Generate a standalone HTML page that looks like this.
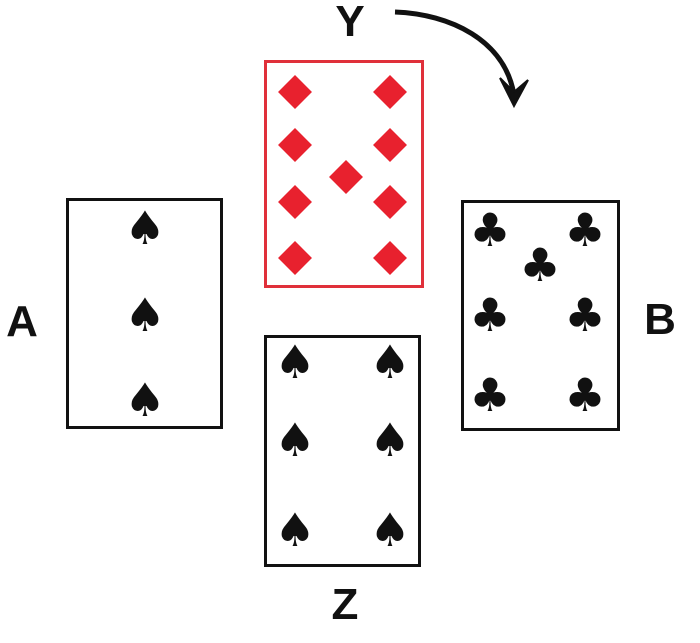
<!DOCTYPE html>
<html><head><meta charset="utf-8"><style>
body{margin:0;width:700px;height:643px;background:#fff;overflow:hidden;position:relative;font-family:"DejaVu Sans","Liberation Sans",sans-serif}
.card{position:absolute;border:3px solid #111;box-sizing:border-box;background:#fff}
.red{border-color:#e0303a}
.s{position:absolute;transform:translate(-50%,-50%);line-height:1;font-size:46px;color:#111}
.d{position:absolute;width:24px;height:24px;background:#e8212e;transform:translate(-50%,-50%) rotate(45deg)}
.lbl{position:absolute;transform:translate(-50%,-50%);font-family:"Liberation Sans",sans-serif;font-weight:bold;font-size:44px;color:#111}
</style></head><body>
<div class="card red" style="left:264px;top:60px;width:160px;height:228px"></div>
<div class="card" style="left:66px;top:198px;width:157px;height:231px"></div>
<div class="card" style="left:461px;top:200px;width:159px;height:231px"></div>
<div class="card" style="left:264px;top:335px;width:157px;height:232px"></div>

<div class="lbl" style="left:350px;top:22px">Y</div>
<div class="lbl" style="left:22px;top:322px">A</div>
<div class="lbl" style="left:660px;top:320px">B</div>
<div class="lbl" style="left:345px;top:605px">Z</div>

<svg style="position:absolute;left:0;top:0" width="700" height="643">
<path d="M395 12 C450 14 505 40 514 95" fill="none" stroke="#111" stroke-width="5"/>
<path d="M500 78 L514 106 L528 80 L514 92 Z" fill="#111" stroke="#111" stroke-width="2"/>
</svg>

<div class="d" style="left:295px;top:92px"></div>
<div class="d" style="left:390px;top:92px"></div>
<div class="d" style="left:295px;top:145px"></div>
<div class="d" style="left:390px;top:145px"></div>
<div class="d" style="left:346px;top:177px"></div>
<div class="d" style="left:295px;top:202px"></div>
<div class="d" style="left:390px;top:202px"></div>
<div class="d" style="left:295px;top:258px"></div>
<div class="d" style="left:390px;top:258px"></div>

<div class="s" style="left:145px;top:228px">♠</div>
<div class="s" style="left:145px;top:315px">♠</div>
<div class="s" style="left:145px;top:400px">♠</div>

<div class="s" style="left:490px;top:230px">♣</div>
<div class="s" style="left:585px;top:230px">♣</div>
<div class="s" style="left:540px;top:265px">♣</div>
<div class="s" style="left:490px;top:315px">♣</div>
<div class="s" style="left:585px;top:315px">♣</div>
<div class="s" style="left:490px;top:395px">♣</div>
<div class="s" style="left:585px;top:395px">♣</div>

<div class="s" style="left:295px;top:362px">♠</div>
<div class="s" style="left:390px;top:362px">♠</div>
<div class="s" style="left:295px;top:440px">♠</div>
<div class="s" style="left:390px;top:440px">♠</div>
<div class="s" style="left:295px;top:530px">♠</div>
<div class="s" style="left:390px;top:530px">♠</div>
</body></html>
